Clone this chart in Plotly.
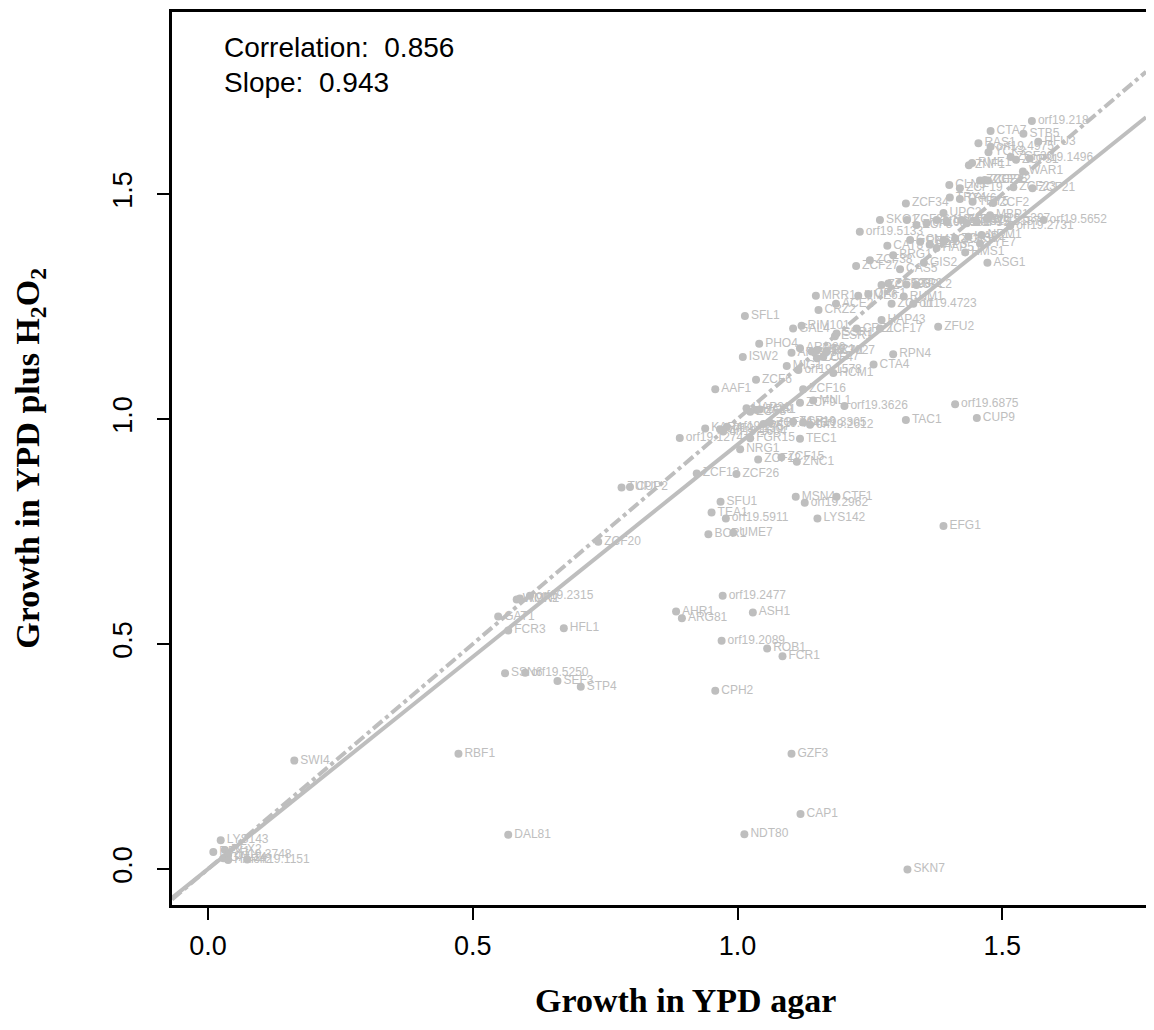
import plotly.graph_objects as go

# ---------------- data ----------------
genes = [
    "orf19.218", "CTA7", "STB5", "HFU3", "RAS1", "orf19.4975", "YCK3", "ZCF30", "ZCF31", "orf19.1496",
    "ZNF1", "RME1", "WAR1", "CLN3", "ZCF24", "ZCF25", "ZCF22", "ZCF19", "ZCF23", "ZCF21",
    "ZCF34", "TRY4", "TRY6", "TRY5", "ZCF2", "UPC2", "MBP1", "SKO1", "orf19.5652", "orf19.2731",
    "orf19.5133", "ZCF36", "ZCF5", "orf19.6182", "orf19.4573", "orf19.1577", "ZCF32", "ZCF35", "orf19.3187", "orf19.5397",
    "CAT8", "GCN4", "RFG1", "HAP3", "HAP5", "ZCF33", "ZCF39", "HAP2", "NRM1", "TYE7",
    "BRG1", "ZCF38", "GIS2", "ZCF27", "CAS5", "ASG1", "HMS1", "ZCF29", "ZCF28", "STP2",
    "SPL2", "MRR1", "UME6", "ORF1", "RHM1", "ACE2", "CRZ2", "ZCF11", "orf19.4723", "HAP43",
    "ZFU2", "RIM101", "GAL4", "CRZ1", "ZCF17", "ESR1", "SSR1", "RPN4", "SFL1", "PHO4",
    "ISW2", "ARG83", "ARO80", "orf19.3927", "ADR1", "RCA1", "ZCF4", "ZCF7", "MIG1", "orf19.1578",
    "CTA4", "HCM1", "ZCF6", "AAF1", "ZCF16", "ZCF9", "MNL1", "orf19.3626", "orf19.6875", "HAP31",
    "HAL9", "ZCF1", "ZCF3", "TAC1", "orf19.2612", "ZCF10", "orf19.3305", "orf19.4145", "ZCF14", "KAR4",
    "orf19.1150", "orf19.1757", "orf19.1604", "FGR15", "TEC1", "orf19.1274", "NRG1", "CUP9", "ZCF12", "ZCF15",
    "ZNC1", "ZCF13", "ZCF26", "TUP1", "CUP2", "SFU1", "MSN4", "CTF1", "orf19.2962", "TEA1",
    "orf19.5911", "LYS142", "EFG1", "BCR1", "UME7", "ZCF20", "WOR2", "AMN1", "orf19.2315", "GAT1",
    "FCR3", "HFL1", "orf19.2477", "AHR1", "ARG81", "ASH1", "orf19.2089", "ROB1", "FCR1", "SSN6",
    "orf19.5250", "SEF3", "STP4", "CPH2", "SWI4", "RBF1", "DAL81", "LYS143", "RFX1", "RFX2",
    "orf19.3748", "GAL14", "HAP42", "orf19.1151", "GZF3", "CAP1", "NDT80", "SKN7",
]
ypd_agar = [
    1.556, 1.478, 1.540, 1.568, 1.455, 1.478, 1.474, 1.516, 1.526, 1.552,
    1.437, 1.443, 1.539, 1.400, 1.458, 1.467, 1.473, 1.420, 1.521, 1.557,
    1.318, 1.401, 1.420, 1.444, 1.483, 1.389, 1.477, 1.269, 1.578, 1.515,
    1.231, 1.320, 1.338, 1.357, 1.376, 1.395, 1.423, 1.433, 1.452, 1.471,
    1.283, 1.326, 1.345, 1.363, 1.376, 1.389, 1.411, 1.436, 1.461, 1.458,
    1.294, 1.250, 1.352, 1.224, 1.307, 1.472, 1.430, 1.272, 1.285, 1.319,
    1.338, 1.148, 1.228, 1.247, 1.314, 1.186, 1.153, 1.291, 1.332, 1.272,
    1.379, 1.121, 1.105, 1.225, 1.269, 1.184, 1.187, 1.294, 1.014, 1.041,
    1.010, 1.102, 1.118, 1.140, 1.150, 1.168, 1.150, 1.162, 1.093, 1.115,
    1.257, 1.181, 1.035, 0.958, 1.124, 1.118, 1.143, 1.202, 1.411, 1.017,
    1.036, 1.042, 1.024, 1.318, 1.137, 1.105, 1.124, 1.049, 1.061, 0.939,
    0.967, 0.980, 0.973, 1.024, 1.118, 0.891, 1.005, 1.452, 1.039, 1.083,
    1.112, 0.923, 0.998, 0.781, 0.797, 0.968, 1.110, 1.187, 1.127, 0.951,
    0.978, 1.151, 1.389, 0.945, 0.992, 0.737, 0.583, 0.589, 0.608, 0.548,
    0.567, 0.672, 0.972, 0.884, 0.895, 1.029, 0.970, 1.056, 1.085, 0.561,
    0.599, 0.660, 0.704, 0.958, 0.163, 0.473, 0.567, 0.024, 0.010, 0.032,
    0.038, 0.029, 0.038, 0.074, 1.102, 1.119, 1.013, 1.321,
]
ypd_h2o2 = [
    1.662, 1.640, 1.634, 1.616, 1.613, 1.605, 1.593, 1.582, 1.576, 1.579,
    1.564, 1.569, 1.550, 1.520, 1.530, 1.531, 1.530, 1.513, 1.515, 1.513,
    1.479, 1.492, 1.489, 1.483, 1.480, 1.458, 1.453, 1.442, 1.442, 1.429,
    1.416, 1.442, 1.431, 1.435, 1.442, 1.438, 1.442, 1.435, 1.438, 1.445,
    1.385, 1.398, 1.394, 1.387, 1.380, 1.398, 1.401, 1.405, 1.409, 1.390,
    1.364, 1.353, 1.347, 1.340, 1.333, 1.347, 1.370, 1.298, 1.301, 1.299,
    1.298, 1.274, 1.274, 1.278, 1.272, 1.256, 1.242, 1.256, 1.256, 1.220,
    1.205, 1.207, 1.201, 1.201, 1.201, 1.184, 1.190, 1.144, 1.229, 1.167,
    1.138, 1.147, 1.157, 1.150, 1.153, 1.150, 1.135, 1.138, 1.118, 1.109,
    1.121, 1.102, 1.087, 1.066, 1.066, 1.036, 1.041, 1.029, 1.033, 1.024,
    1.020, 1.021, 1.016, 0.998, 0.987, 0.994, 0.992, 0.989, 0.992, 0.979,
    0.977, 0.983, 0.972, 0.957, 0.956, 0.958, 0.933, 1.002, 0.910, 0.915,
    0.905, 0.879, 0.878, 0.848, 0.849, 0.816, 0.827, 0.827, 0.814, 0.792,
    0.779, 0.779, 0.762, 0.744, 0.747, 0.727, 0.599, 0.601, 0.607, 0.561,
    0.530, 0.535, 0.607, 0.572, 0.557, 0.570, 0.507, 0.490, 0.473, 0.435,
    0.436, 0.418, 0.405, 0.396, 0.241, 0.256, 0.076, 0.064, 0.038, 0.042,
    0.031, 0.024, 0.020, 0.021, 0.256, 0.122, 0.077, -0.001,
]

# fitted line and identity line
fit_slope = 0.943
fit_intercept = 0.0
ident_slope = 1.0
ident_intercept = 0.0
correlation_text = "Correlation:  0.856"
slope_text = "Slope:  0.943"

x_ticks = [0.0, 0.5, 1.0, 1.5]
x_tick_labels = ["0.0", "0.5", "1.0", "1.5"]
y_ticks = [0.0, 0.5, 1.0, 1.5]
y_tick_labels = ["0.0", "0.5", "1.0", "1.5"]

x_range = [-0.068, 1.7715]
y_range = [-0.080, 1.9044]

GRAY = "#BEBEBE"

fig = go.Figure()

line_x = [x_range[0], x_range[1]]
fig.add_trace(go.Scatter(
    x=line_x, y=[fit_intercept + fit_slope * v for v in line_x],
    mode="lines", line=dict(color=GRAY, width=4), hoverinfo="skip", showlegend=False))
fig.add_trace(go.Scatter(
    x=line_x, y=[ident_intercept + ident_slope * v for v in line_x],
    mode="lines", line=dict(color=GRAY, width=4, dash="dashdot"), hoverinfo="skip", showlegend=False))

fig.add_trace(go.Scatter(
    x=ypd_agar, y=ypd_h2o2, text=genes,
    mode="markers+text", textposition="middle right",
    marker=dict(color=GRAY, size=8),
    textfont=dict(family="Liberation Sans, Arial, sans-serif", size=12, color=GRAY),
    cliponaxis=True, showlegend=False))

tick_font = dict(family="Liberation Sans, Arial, sans-serif", size=27, color="black")
note_font = dict(family="Liberation Sans, Arial, sans-serif", size=28, color="black")
fig.update_layout(
    width=1138, height=1014,
    margin=dict(l=164, r=0, t=4, b=117, autoexpand=False),
    paper_bgcolor="white", plot_bgcolor="white",
    xaxis=dict(range=x_range, tickvals=x_ticks, ticktext=x_tick_labels,
               ticks="outside", ticklen=12, tickwidth=2, tickcolor="black",
               showline=True, linewidth=3, linecolor="black", mirror=True, automargin=False,
               showgrid=False, zeroline=False, tickfont=tick_font, ticklabelstandoff=3),
    yaxis=dict(range=y_range, tickvals=y_ticks, ticktext=y_tick_labels,
               ticks="outside", ticklen=12, tickwidth=2, tickcolor="black", tickangle=-90,
               showline=True, linewidth=3, linecolor="black", mirror=False, automargin=False,
               showgrid=False, zeroline=False, tickfont=tick_font, ticklabelstandoff=14),
)

title_font = dict(family="Liberation Serif, Times New Roman, serif", size=34, color="black")
fig.add_annotation(text="<b>Growth in YPD agar</b>", xref="paper", yref="paper",
                   x=0.5267, y=-0.1064, xanchor="center", yanchor="middle",
                   showarrow=False, font=title_font)
fig.add_annotation(text="<b>Growth in YPD plus H<sub>2</sub>O<sub>2</sub></b>", xref="paper", yref="paper",
                   x=-0.1460, y=0.5006, xanchor="center", yanchor="middle", textangle=-90,
                   showarrow=False, font=title_font)
fig.add_annotation(text=correlation_text, xref="paper", yref="paper",
                   x=0.0513, y=0.9597, xanchor="left", yanchor="middle",
                   showarrow=False, font=note_font)
fig.add_annotation(text=slope_text, xref="paper", yref="paper",
                   x=0.0513, y=0.9205, xanchor="left", yanchor="middle",
                   showarrow=False, font=note_font)

fig.write_html("out.html")
